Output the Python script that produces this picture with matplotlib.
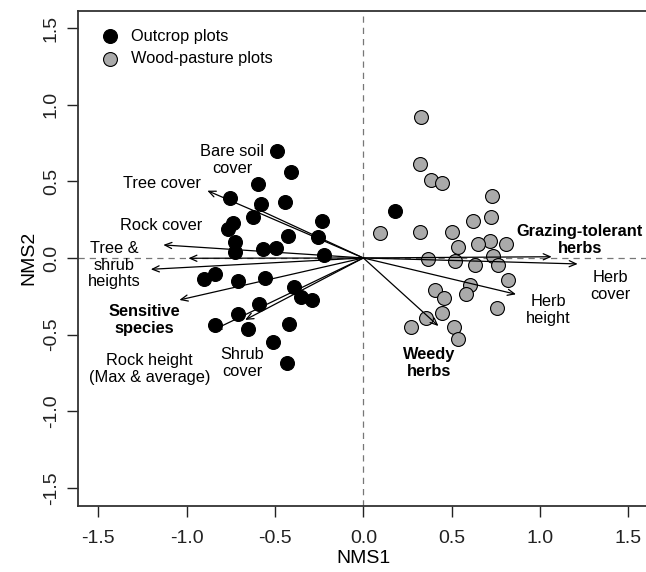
import matplotlib
matplotlib.use("Agg")
import matplotlib.pyplot as plt

plt.rcParams['font.family'] = ['Liberation Sans', 'DejaVu Sans']
plt.rcParams['axes.unicode_minus'] = False

# ---- data ----
outcrop_x = [-0.491, -0.411, -0.596, -0.753, -0.577, -0.445, -0.623, -0.236, -0.736, -0.768,
             -0.424, -0.258, -0.726, -0.726, -0.568, -0.494, -0.221,
             -0.902, -0.839, -0.711, -0.556, -0.390, -0.354, -0.289, -0.589, -0.711,
             -0.837, -0.651, -0.419, -0.509, -0.434, 0.179]
outcrop_y = [0.700, 0.563, 0.485, 0.391, 0.354, 0.365, 0.270, 0.241, 0.230, 0.187,
             0.144, 0.137, 0.107, 0.041, 0.057, 0.067, 0.020,
             -0.139, -0.106, -0.150, -0.133, -0.191, -0.252, -0.274, -0.300, -0.368,
             -0.437, -0.463, -0.431, -0.546, -0.687, 0.309]

pasture_x = [0.328, 0.323, 0.385, 0.445, 0.727, 0.723, 0.623, 0.094, 0.321, 0.502,
             0.717, 0.649, 0.809, 0.538, 0.736, 0.364, 0.517, 0.632, 0.762, 0.817,
             0.604, 0.581, 0.404, 0.457, 0.759, 0.445, 0.353, 0.272, 0.515, 0.538]
pasture_y = [0.922, 0.613, 0.509, 0.487, 0.404, 0.270, 0.239, 0.165, 0.172, 0.172,
             0.111, 0.091, 0.093, 0.074, 0.015, -0.009, -0.022, -0.046, -0.046, -0.141,
             -0.176, -0.237, -0.207, -0.261, -0.324, -0.361, -0.394, -0.448, -0.450, -0.531]

# vector (arrow) endpoints
vec_names = ["Tree cover", "Bare soil cover", "Rock cover", "Tree height", "Shrub height",
             "Sensitive species", "Shrub cover", "Rock height",
             "Grazing-tolerant herbs", "Herb cover", "Herb height", "Weedy herbs"]
vec_x = [-0.883, -0.62, -1.132, -0.990, -1.203, -1.041, -0.669, -0.849, 1.066, 1.213, 0.864, 0.425]
vec_y = [0.439, 0.33, 0.085, -0.002, -0.074, -0.274, -0.404, -0.470, 0.008, -0.039, -0.237, -0.444]

# vector labels
lab_text = ["Bare soil\ncover", "Tree cover", "Rock cover", "Tree &\nshrub\nheights",
            "Sensitive\nspecies", "Rock height\n(Max & average)", "Shrub\ncover",
            "Grazing-tolerant\nherbs", "Herb\ncover", "Herb\nheight", "Weedy\nherbs"]
lab_x = [-0.742, -1.142, -1.145, -1.410, -1.238, -1.210, -0.686, 1.226, 1.396, 1.045, 0.372]
lab_y = [0.639, 0.486, 0.215, -0.046, -0.404, -0.724, -0.685, 0.117, -0.183, -0.339, -0.685]
lab_bold = [False, False, False, False, True, False, False, True, False, False, True]

ticks = [-1.5, -1.0, -0.5, 0.0, 0.5, 1.0, 1.5]
tick_labels = ["-1.5", "-1.0", "-0.5", "0.0", "0.5", "1.0", "1.5"]

# ---- figure ----
fig = plt.figure(figsize=(6.46, 5.72), dpi=100)
ax = fig.add_axes([0.1207, 0.1154, 0.8835, 0.8659])
ax.set_xlim(-1.615, 1.615)
ax.set_ylim(-1.618, 1.613)

ax.axhline(0, color='#777777', lw=0.9, ls=(0, (5, 4)), zorder=1)
ax.axvline(0, color='#777777', lw=0.9, ls=(0, (5, 4)), zorder=1)

ax.scatter(outcrop_x, outcrop_y, s=100, c='black', edgecolors='black', linewidths=0.8,
           zorder=3, label='Outcrop plots')
ax.scatter(pasture_x, pasture_y, s=100, c='#aaaaaa', edgecolors='black', linewidths=0.8,
           zorder=3, label='Wood-pasture plots')

for vx, vy in zip(vec_x, vec_y):
    ax.annotate('', xy=(vx, vy), xytext=(0, 0),
                arrowprops=dict(arrowstyle='->,head_length=0.5,head_width=0.22',
                                color='black', lw=0.9, shrinkA=0, shrinkB=0),
                zorder=4)

for t, x, y, b in zip(lab_text, lab_x, lab_y, lab_bold):
    ax.text(x, y, t, ha='center', va='center', fontsize=11.8,
            fontweight='bold' if b else 'normal', linespacing=1.15, zorder=5)

ax.set_xticks(ticks)
ax.set_xticklabels(tick_labels, fontsize=14)
ax.set_yticks(ticks)
ax.set_yticklabels(tick_labels, fontsize=14, rotation=90, va='center')
ax.tick_params(direction='out', length=8, width=1.0, colors='#222222')
ax.tick_params(axis='x', pad=9)
ax.tick_params(axis='y', pad=5)
ax.set_xlabel('NMS1', fontsize=14, labelpad=2.5)
ax.set_ylabel('NMS2', fontsize=14, labelpad=4)

for sp in ax.spines.values():
    sp.set_linewidth(1.3)
    sp.set_color('#333333')

leg = ax.legend(loc='upper left', bbox_to_anchor=(0.004, 0.99), frameon=False,
                fontsize=11.8, handletextpad=0.3, labelspacing=0.45, borderpad=0.3,
                scatterpoints=1)

fig.savefig('out.png', dpi=100)
